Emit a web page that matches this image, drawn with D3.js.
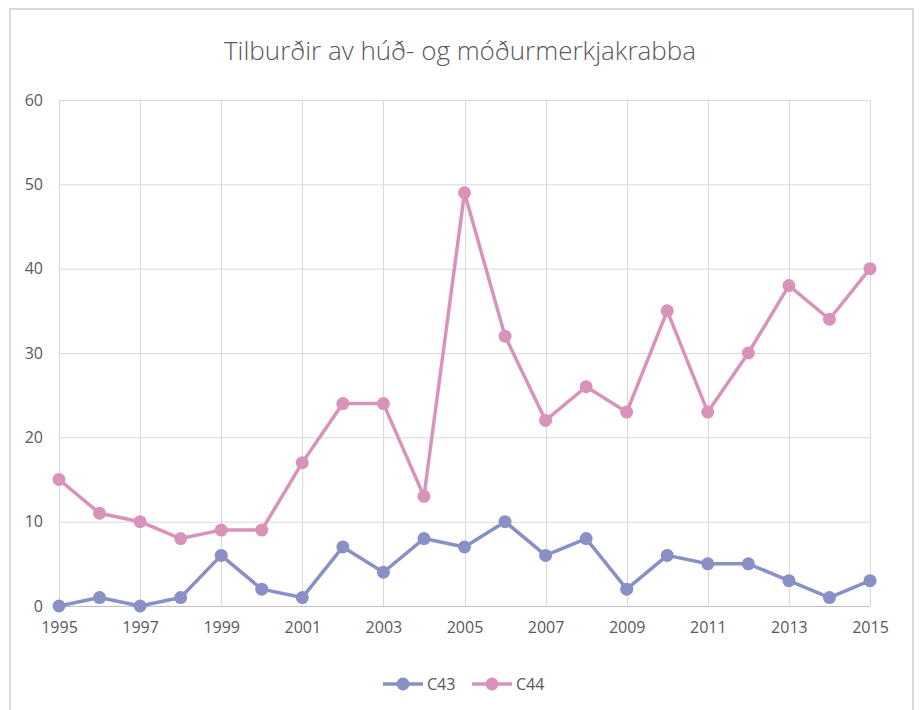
<!DOCTYPE html>
<html>
<head>
<meta charset="utf-8">
<script src="https://cdn.jsdelivr.net/npm/d3@7"></script>
<style>
  body { margin: 0; background: #fff; }
  svg { display: block; font-family: "Open Sans", "Noto Sans", sans-serif; }
</style>
</head>
<body>
<svg id="chart" width="919" height="710"></svg>
<script>
// chart data
const years = d3.range(1995, 2016);
const c43 = [0, 1, 0, 1, 6, 2, 1, 7, 4, 8, 7, 10, 6, 8, 2, 6, 5, 5, 3, 1, 3];
const c44 = [15, 11, 10, 8, 9, 9, 17, 24, 24, 13, 49, 32, 22, 26, 23, 35, 23, 30, 38, 34, 40];
const yTicks = [0, 10, 20, 30, 40, 50, 60];
const xTicks = d3.range(1995, 2016, 2);

const series = [
    { name: "C43", values: c43, color: "#8a8fc6" },
    { name: "C44", values: c44, color: "#d993bb" }
];

const svg = d3.select("#chart");
const margin = { left: 59, right: 49, top: 100, bottom: 104 };
const width = 919, height = 710;

// outer frame of the chart area
svg.append("rect")
    .attr("x", 10).attr("y", 9)
    .attr("width", 903).attr("height", 710)
    .attr("fill", "#fff")
    .attr("stroke", "#d9d9d9")
    .attr("stroke-width", 2);

const x = d3.scaleLinear()
    .domain([1995, 2015])
    .range([margin.left, width - margin.right]);

const y = d3.scaleLinear()
    .domain([0, 60])
    .range([height - margin.bottom, margin.top]);

// title
svg.append("text")
    .attr("x", 460).attr("y", 60)
    .attr("text-anchor", "middle")
    .attr("font-size", 26)
    .attr("font-weight", 300)
    .attr("fill", "#595959")
    .text("Tilburðir av húð- og móðurmerkjakrabba");

// gridlines
const grid = svg.append("g").attr("stroke", "#d9d9d9").attr("stroke-width", 1);
grid.selectAll(".hgrid")
    .data(yTicks.filter(d => d > 0))
    .join("line")
    .attr("x1", x(1995)).attr("x2", x(2015))
    .attr("y1", d => y(d) + 0.5).attr("y2", d => y(d) + 0.5);
grid.selectAll(".vgrid")
    .data(xTicks)
    .join("line")
    .attr("x1", d => Math.round(x(d)) + 0.5).attr("x2", d => Math.round(x(d)) + 0.5)
    .attr("y1", y(60)).attr("y2", y(0));

// x axis line
svg.append("line")
    .attr("x1", x(1995)).attr("x2", x(2015))
    .attr("y1", y(0) + 0.5).attr("y2", y(0) + 0.5)
    .attr("stroke", "#bfbfbf");

// y axis labels
const yAxis = d3.axisLeft(y).tickValues(yTicks).tickSize(0).tickPadding(16);
svg.append("g")
    .attr("transform", `translate(${margin.left},0)`)
    .call(yAxis)
    .call(g => g.select(".domain").remove())
    .call(g => g.selectAll("text")
        .attr("font-size", 16)
        .attr("font-family", "Open Sans, sans-serif")
        .attr("fill", "#595959"));

// x axis labels
const xAxis = d3.axisBottom(x).tickValues(xTicks).tickFormat(d3.format("d")).tickSize(0).tickPadding(16);
svg.append("g")
    .attr("transform", `translate(0,${y(0)})`)
    .call(xAxis)
    .call(g => g.select(".domain").remove())
    .call(g => g.selectAll("text")
        .attr("font-size", 16)
        .attr("font-family", "Open Sans, sans-serif")
        .attr("fill", "#595959"));

// lines and markers
const line = d3.line()
    .x((d, i) => x(years[i]))
    .y(d => y(d));

for (const s of series) {
    svg.append("path")
        .datum(s.values)
        .attr("fill", "none")
        .attr("stroke", s.color)
        .attr("stroke-width", 3.5)
        .attr("stroke-linejoin", "round")
        .attr("d", line);

    svg.append("g")
        .selectAll("circle")
        .data(s.values)
        .join("circle")
        .attr("cx", (d, i) => x(years[i]))
        .attr("cy", d => y(d))
        .attr("r", 6.5)
        .attr("fill", s.color);
}

// legend
const legendItems = [
    { s: series[0], x0: 383 },
    { s: series[1], x0: 472 }
];
const legend = svg.append("g");
for (const item of legendItems) {
    const g = legend.append("g").attr("transform", `translate(${item.x0},684)`);
    g.append("line")
        .attr("x1", 0).attr("x2", 40)
        .attr("stroke", item.s.color).attr("stroke-width", 3.5);
    g.append("circle")
        .attr("cx", 20).attr("r", 6.5)
        .attr("fill", item.s.color);
    g.append("text")
        .attr("x", 44).attr("y", 6)
        .attr("font-size", 16)
        .attr("fill", "#595959")
        .text(item.s.name);
}
</script>
</body>
</html>
